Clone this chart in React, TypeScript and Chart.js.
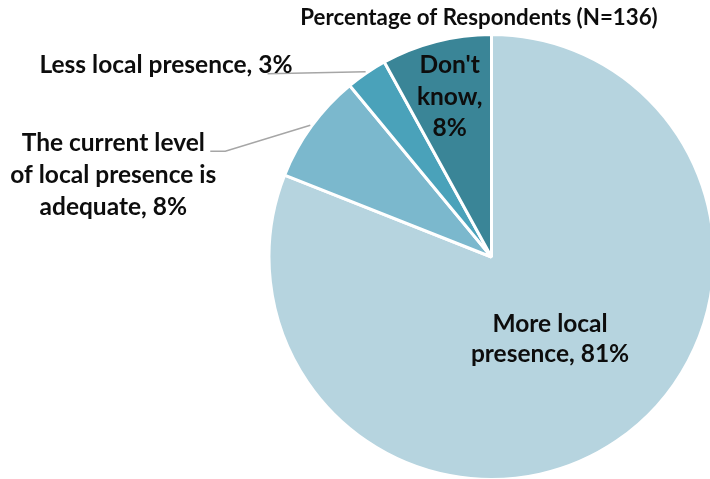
import React, { useEffect, useRef } from "react";
import { Chart, registerables } from "chart.js";

Chart.register(...registerables);

const categories = [
  "More local presence",
  "The current level of local presence is adequate",
  "Less local presence",
  "Don't know",
];
const values = [81, 8, 3, 8];
const colors = ["#b6d4df", "#7bb8cd", "#4aa2ba", "#3a8597"];
const labelLines = [
  ["More local", "presence, 81%"],
  ["The current level", "of local presence is", "adequate, 8%"],
  ["Less local presence, 3%"],
  ["Don't", "know,", "8%"],
];
const titleText = "Percentage of Respondents (N=136)";

const FONT = "bold 24.5px Lato";
const TITLE_FONT = "bold 22.3px Lato";

const labelPlugin = {
  id: "pieLabels",
  afterDraw(chart: any) {
    const ctx = chart.ctx as CanvasRenderingContext2D;
    const meta = chart.getDatasetMeta(0);
    ctx.save();
    ctx.fillStyle = "#0d0d0d";
    ctx.font = TITLE_FONT;
    ctx.textAlign = "center";
    ctx.textBaseline = "alphabetic";
    ctx.fillText(titleText, 479, 25);

    meta.data.forEach((arc: any, i: number) => {
      const { x, y, startAngle, endAngle, outerRadius } = arc.getProps(
        ["x", "y", "startAngle", "endAngle", "outerRadius"],
        true
      );
      const r = outerRadius + 1.5;
      const mid = (startAngle + endAngle) / 2;
      const lines = labelLines[i];
      ctx.font = FONT;
      ctx.fillStyle = "#0d0d0d";
      if (i === 0 || i === 3) {
        const f = i === 0 ? 0.465 : 0.75;
        const lh = i === 0 ? 30 : 31.5;
        const off = i === 0 ? 4 : 10.5;
        const ax = x + r * f * Math.cos(mid);
        const ay = y + r * f * Math.sin(mid);
        ctx.textAlign = "center";
        const first = ay - ((lines.length - 1) * lh) / 2 + off;
        lines.forEach((t, k) => ctx.fillText(t, ax, first + k * lh));
      } else {
        const px = x + r * Math.cos(mid);
        const py = y + r * Math.sin(mid);
        ctx.strokeStyle = "#a6a6a6";
        ctx.lineWidth = 1.5;
        ctx.beginPath();
        if (i === 2) {
          ctx.moveTo(px, py);
          ctx.lineTo(px - 98, py + 2);
          ctx.stroke();
          ctx.textAlign = "right";
          ctx.fillText(lines[0], px - 73, py + 1);
        } else {
          ctx.moveTo(px, py);
          ctx.lineTo(px - 85, py + 26);
          ctx.lineTo(px - 100, py + 26);
          ctx.stroke();
          ctx.textAlign = "center";
          const cx = px - 197;
          lines.forEach((t, k) => ctx.fillText(t, cx, py + 26 + k * 32));
        }
      }
    });
    ctx.restore();
  },
};

export default function App() {
  const ref = useRef<HTMLCanvasElement | null>(null);
  useEffect(() => {
    document.body.style.margin = "0";
    const canvas = ref.current!;
    const chart = new Chart(canvas, {
      type: "pie",
      data: {
        labels: categories,
        datasets: [
          {
            data: values,
            backgroundColor: colors,
            borderColor: "#ffffff",
            borderWidth: 3,
          },
        ],
      },
      options: {
        responsive: false,
        animation: false,
        layout: { padding: { left: 267.5, right: 0.5, top: 33, bottom: 2 } },
        plugins: {
          legend: { display: false },
          tooltip: { enabled: false },
          title: { display: false },
        },
      },
      plugins: [labelPlugin],
    });
    return () => chart.destroy();
  }, []);
  return (
    <div
      style={{
        position: "absolute",
        left: 0,
        top: 0,
        width: 710,
        height: 479,
        overflow: "hidden",
        background: "#fff",
      }}
    >
      <canvas ref={ref} width={716} height={483} style={{ width: 716, height: 483, display: "block" }} />
    </div>
  );
}
